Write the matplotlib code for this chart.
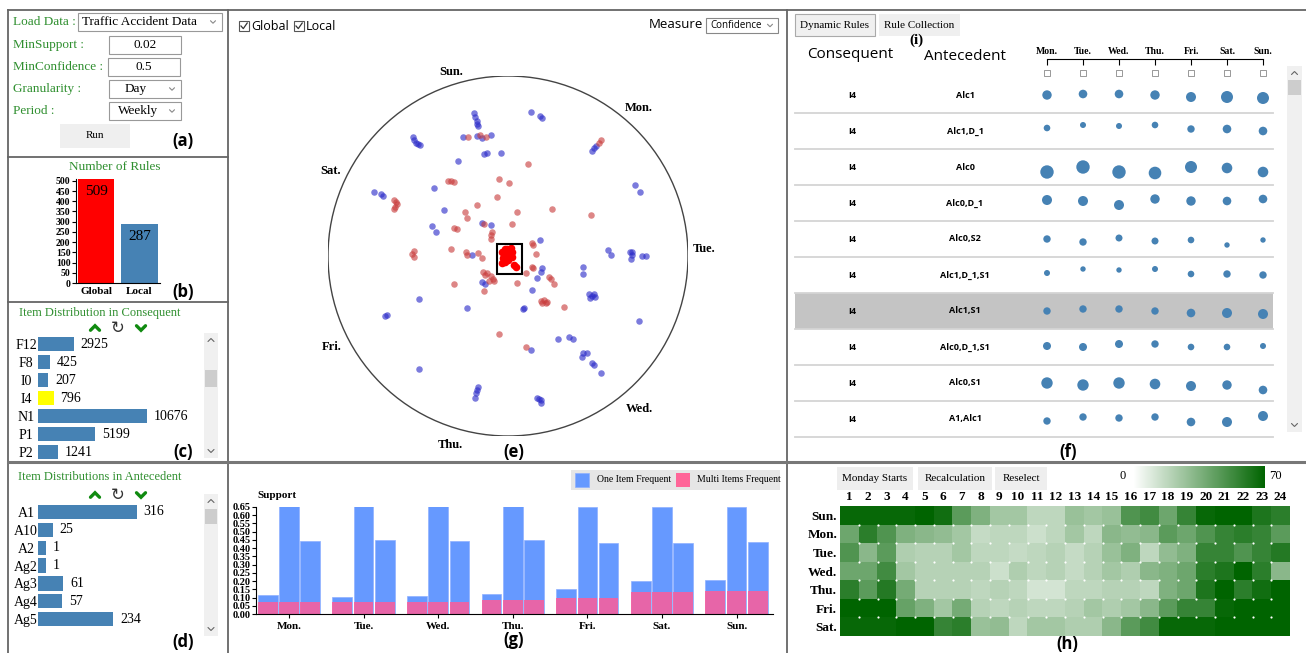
import numpy as np
import matplotlib
matplotlib.use("Agg")
import matplotlib.pyplot as plt
from matplotlib.patches import Rectangle, Circle
from matplotlib.colors import LinearSegmentedColormap

W, H = 1306, 653
SERIF = "Liberation Serif"
SANS = "Open Sans"
GREEN = "#2f8f2f"
STEEL = "#4682b4"

# ---- (b) number of rules ----
RULE_TYPES = ["Global", "Local"]
RULE_COUNTS = [509, 287]

# ---- (c) item distribution in consequent ----
CONS_ITEMS = ["F12", "F8", "I0", "I4", "N1", "P1", "P2"]
CONS_COUNTS = [2925, 425, 207, 796, 10676, 5199, 1241]

# ---- (d) item distribution in antecedent ----
ANTE_ITEMS = ["A1", "A10", "A2", "Ag2", "Ag3", "Ag4", "Ag5"]
ANTE_COUNTS = [316, 25, 1, 1, 61, 57, 234]

# ---- (e) radial rule map, positions in units of the circle radius ----
LOCAL_PTS = np.array([
    (-0.187, 0.796), (-0.181, 0.774), (-0.175, 0.752), (-0.171, 0.733), (-0.167, 0.722),
    (0.127, 0.798), (0.175, 0.780), (0.187, 0.765),
    (-0.528, 0.659), (-0.520, 0.644), (-0.512, 0.630), (-0.500, 0.620), (-0.488, 0.617),
    (-0.252, 0.661), (-0.173, 0.669), (-0.093, 0.674), (-0.143, 0.654),
    (0.464, 0.585), (0.476, 0.600), (0.488, 0.613),
    (-0.135, 0.565), (-0.117, 0.570), (-0.040, 0.574), (-0.280, 0.528),
    (-0.411, 0.376), (0.706, 0.393), (0.736, 0.357),
    (-0.742, 0.354), (-0.706, 0.343), (-0.692, 0.333),
    (-0.357, 0.254), (-0.421, 0.167), (-0.401, 0.135),
    (-0.143, 0.181), (-0.097, 0.172), (-0.200, 0.006), (0.177, 0.089),
    (0.190, -0.069), (0.185, -0.087), (0.163, -0.124),
    (-0.143, -0.144), (-0.127, -0.156), (0.133, -0.189),
    (0.415, -0.059), (0.419, -0.100), (0.558, 0.033), (0.573, 0.006),
    (0.677, 0.024), (0.687, 0.006), (0.681, -0.019), (0.690, 0.020),
    (0.746, 0.000), (0.766, 0.000),
    (0.452, -0.211), (0.464, -0.222), (0.478, -0.211), (0.484, -0.230), (0.458, -0.231),
    (0.083, -0.296), (0.089, -0.291), (-0.226, -0.287), (-0.496, -0.241),
    (-0.673, -0.328), (-0.683, -0.333), (0.726, -0.361),
    (0.280, -0.461), (0.339, -0.452), (0.359, -0.461), (0.127, -0.522),
    (0.419, -0.541), (0.438, -0.541), (0.409, -0.559),
    (0.468, -0.593), (0.478, -0.606), (0.514, -0.648), (-0.494, -0.628),
    (-0.167, -0.726), (-0.173, -0.744), (-0.177, -0.763), (-0.181, -0.787),
    (0.163, -0.791), (0.181, -0.800), (0.185, -0.819), (0.171, -0.796),
])
GLOBAL_PTS = np.array([
    (-0.222, 0.663), (-0.155, 0.674), (-0.123, 0.663), (0.504, 0.630), (0.516, 0.644),
    (0.111, 0.511), (-0.335, 0.417), (-0.315, 0.417), (-0.300, 0.413),
    (-0.052, 0.430), (0.006, 0.407),
    (-0.633, 0.311), (-0.623, 0.302), (-0.619, 0.289), (-0.629, 0.274), (-0.631, 0.263),
    (-0.062, 0.326), (-0.171, 0.285), (-0.240, 0.243), (-0.226, 0.213),
    (0.048, 0.243), (0.242, 0.259), (0.462, 0.230),
    (-0.300, 0.154), (-0.286, 0.148), (-0.131, 0.178),
    (-0.091, 0.135), (-0.097, 0.117), (-0.097, 0.094), (0.024, 0.178),
    (-0.524, 0.030), (-0.532, 0.011), (-0.524, -0.004), (-0.317, 0.037),
    (-0.236, 0.024), (-0.230, 0.006), (-0.167, 0.015), (-0.147, -0.009),
    (0.131, 0.070), (0.141, 0.061), (0.157, 0.009), (0.135, -0.059), (0.141, -0.069),
    (0.101, -0.096), (0.230, -0.115), (0.240, -0.130), (0.254, -0.157),
    (-0.137, -0.091), (-0.117, -0.096), (-0.097, -0.111), (-0.083, -0.130),
    (-0.107, -0.137), (-0.077, -0.139), (-0.127, -0.106),
    (0.048, -0.148), (-0.300, -0.157), (-0.131, -0.193),
    (0.183, -0.250), (0.198, -0.244), (0.214, -0.254), (0.190, -0.263), (0.210, -0.263),
    (0.310, -0.281), (-0.048, -0.435), (0.101, -0.507),
])
SELECTED_PTS = np.array([
    (-0.032, 0.024), (-0.018, 0.037), (0.002, 0.033), (0.022, 0.024), (0.012, 0.006),
    (-0.008, -0.004), (-0.028, -0.013), (-0.018, -0.031), (-0.032, -0.041), (0.002, -0.022),
    (0.022, -0.004), (0.032, -0.050), (0.042, -0.059), (0.016, 0.043), (-0.010, 0.015),
    (0.010, 0.020), (-0.020, 0.000), (0.000, -0.010), (-0.005, 0.040),
])
WEEK_RING = ["Sun.", "Mon.", "Tue.", "Wed.", "Thu.", "Fri.", "Sat."]

# ---- (f) rule table ----
DAYS = ["Mon.", "Tue.", "Wed.", "Thu.", "Fri.", "Sat.", "Sun."]
CONSEQUENT = "I4"
ANTECEDENTS = ["Alc1", "Alc1,D_1", "Alc0", "Alc0,D_1", "Alc0,S2",
               "Alc1,D_1,S1", "Alc1,S1", "Alc0,D_1,S1", "Alc0,S1", "A1,Alc1"]
# bubble radius (px) per day
BUBBLE_RADIUS = [
    [4.7, 4.3, 4.3, 4.7, 5.0, 6.0, 6.0],
    [3.3, 3.0, 3.0, 3.3, 3.7, 4.3, 4.3],
    [6.7, 6.7, 6.7, 6.3, 6.0, 5.3, 5.3],
    [5.0, 5.0, 5.0, 4.7, 4.7, 4.3, 4.3],
    [3.7, 3.7, 3.5, 3.5, 3.3, 2.7, 2.7],
    [3.0, 2.7, 2.7, 3.0, 3.3, 3.7, 3.7],
    [3.7, 3.7, 3.7, 3.7, 4.3, 5.0, 5.0],
    [4.0, 4.0, 4.0, 3.7, 3.3, 3.3, 3.0],
    [5.7, 5.7, 5.7, 5.3, 5.0, 4.7, 4.3],
    [3.7, 3.7, 3.7, 3.7, 4.3, 5.0, 5.0],
]
# vertical bubble offset inside the row (px, down is positive)
BUBBLE_SHIFT = [
    [0, -1, -1, 0, 2, 2, 3],
    [-3, -6, -5, -6, -2, -2, 0],
    [5, 0, 5, 6, 0, 1, 5],
    [-3, -2, 2, -4, -2, -2, -4],
    [0, 3, -1, 2, 1, 6, 1],
    [-2, -6, -5, -6, -1, -1, 0],
    [0, -2, -2, 0, 2, 2, 3],
    [-1, 0, -3, -3, 0, 0, -1],
    [0, 2, 0, 1, 3, 2, 7],
    [2, -2, -1, -2, 3, 3, -3],
]
HIGHLIGHT_ROW = 6

# ---- (g) support per day ----
ONE_ITEM_1 = [0.115, 0.105, 0.111, 0.119, 0.151, 0.200, 0.204]
ONE_ITEM_2 = [0.654, 0.654, 0.658, 0.658, 0.648, 0.648, 0.648]
ONE_ITEM_3 = [0.446, 0.452, 0.446, 0.452, 0.434, 0.434, 0.438]
MULTI_ITEMS = [0.075, 0.071, 0.075, 0.085, 0.099, 0.133, 0.137]

# ---- (h) hourly heatmap ----
HOURS = list(range(1, 25))
HEAT_DAYS = ["Sun.", "Mon.", "Tue.", "Wed.", "Thu.", "Fri.", "Sat."]
HEAT = [
    [68, 68, 68, 68, 70, 65, 45, 35, 25, 25, 18, 18, 28, 25, 28, 48, 52, 40, 55, 68, 70, 70, 62, 58],
    [40, 58, 48, 35, 32, 30, 25, 16, 18, 18, 14, 18, 25, 18, 32, 30, 32, 45, 40, 48, 55, 58, 55, 45],
    [48, 32, 45, 22, 20, 20, 25, 18, 18, 16, 18, 20, 16, 20, 28, 35, 18, 30, 35, 55, 55, 48, 55, 60],
    [40, 40, 52, 25, 20, 20, 20, 20, 14, 22, 18, 20, 16, 20, 25, 22, 32, 35, 40, 58, 62, 70, 58, 32],
    [58, 45, 60, 38, 20, 20, 20, 18, 20, 18, 12, 12, 18, 18, 20, 20, 18, 35, 40, 62, 70, 58, 65, 70],
    [70, 70, 70, 42, 35, 25, 38, 20, 18, 20, 18, 18, 20, 25, 22, 25, 32, 45, 55, 55, 68, 70, 70, 70],
    [68, 68, 68, 70, 70, 55, 58, 28, 30, 18, 25, 25, 22, 22, 32, 45, 52, 68, 68, 68, 70, 70, 70, 70],
]

fig = plt.figure(figsize=(W / 100, H / 100), dpi=100)
bg = fig.add_axes([0, 0, 1, 1])
bg.set_xlim(0, W)
bg.set_ylim(H, 0)
bg.axis("off")


def px_axes(x0, y0, x1, y1):
    return fig.add_axes([x0 / W, 1 - y1 / H, (x1 - x0) / W, (y1 - y0) / H])


def box(x0, y0, x1, y1, fc="white", ec="#999999", lw=0.8):
    bg.add_patch(Rectangle((x0, y0), x1 - x0, y1 - y0, fc=fc, ec=ec, lw=lw))


def chevron(x, y, s=3.0, up=False, color="#888888", lw=0.8):
    d = -s / 2 if up else s / 2
    bg.plot([x - s, x, x + s], [y - d, y + d, y - d], color=color, lw=lw,
            solid_capstyle="round", solid_joinstyle="miter")


def txt(x, y, s, size=10, family=SERIF, color="black", weight="normal", ha="left", **kw):
    bg.text(x, y, s, fontsize=size, family=family, color=color, fontweight=weight,
            ha=ha, va="center", **kw)


def panel_tag(x, y, s):
    txt(x, y, s, size=12, family=SANS, weight="bold", ha="center")


def scrollbar(x0, x1, y0, y1, t0, t1):
    box(x0, y0, x1, y1, fc="#f0f0f0", ec="none")
    box(x0 + 1, t0, x1 - 1, t1, fc="#cdcdcd", ec="none")
    chevron((x0 + x1) / 2, y0 + 7, s=3, up=True, color="#666666")
    chevron((x0 + x1) / 2, y1 - 7, s=3, color="#666666")


def nav_icons(y):
    chevron(95, y, s=4.5, up=True, color="#108a10", lw=2.4)
    txt(118, y, "\u21bb", size=12, family="DejaVu Sans", color="#333333", ha="center")
    chevron(141, y, s=4.5, color="#108a10", lw=2.4)


# ---- panel frames ----
frame = dict(color="#666666", lw=1.3)
bg.plot([8, 1306], [10, 10], **frame)
bg.plot([8, 8], [10, 653], **frame)
bg.plot([228, 228], [10, 653], **frame)
bg.plot([787, 787], [10, 653], **frame)
bg.plot([8, 228], [157, 157], **frame)
bg.plot([8, 228], [302, 302], **frame)
bg.plot([8, 1306], [462, 462], color="#777777", lw=2.2)

# ---- (a) controls ----
LAB = 9.5
txt(13, 22, "Load Data :", size=LAB, color=GREEN)
box(78, 13, 222, 31)
txt(82, 22, "Traffic Accident Data", size=LAB)
chevron(213, 22, s=2.5)
txt(13, 45, "MinSupport :", size=LAB, color=GREEN)
box(109, 36, 181, 54)
txt(145, 45, "0.02", size=LAB, ha="center")
txt(13, 67, "MinConfidence :", size=LAB, color=GREEN)
box(108, 58, 180, 76)
txt(144, 67, "0.5", size=LAB, ha="center")
txt(13, 89, "Granularity :", size=LAB, color=GREEN)
box(109, 80, 181, 98)
txt(136, 89, "Day", size=LAB, ha="center")
chevron(172, 89, s=2.5)
txt(13, 111, "Period :", size=LAB, color=GREEN)
box(109, 102, 181, 120)
txt(138, 111, "Weekly", size=LAB, ha="center")
chevron(172, 111, s=2.5)
box(60, 124, 130, 148, fc="#efefef", ec="none")
txt(95, 136, "Run", size=8, ha="center")
panel_tag(183, 141, "(a)")

# ---- (b) rule counts ----
txt(115, 167, "Number of Rules", size=LAB, color=GREEN, ha="center")
ax_b = px_axes(76, 179, 160, 283)
ax_b.bar(range(2), RULE_COUNTS, width=0.83, color=["#ff0000", STEEL])
for i, v in enumerate(RULE_COUNTS):
    ax_b.annotate(str(v), (i, v), xytext=(0, -4), textcoords="offset points",
                  ha="center", va="top", fontsize=11, family=SERIF)
ax_b.set_xlim(-0.46, 1.47)
ax_b.set_ylim(0, 509)
ax_b.set_yticks(range(0, 501, 50))
ax_b.set_xticks(range(2), RULE_TYPES)
ax_b.tick_params(axis="y", length=3, width=0.8, pad=1, labelsize=7)
ax_b.tick_params(axis="x", length=0, pad=3, labelsize=8)
for lab in ax_b.get_xticklabels() + ax_b.get_yticklabels():
    lab.set_fontfamily(SERIF)
    lab.set_fontweight("bold")
ax_b.spines[["top", "right"]].set_visible(False)
for s in ["left", "bottom"]:
    ax_b.spines[s].set_linewidth(0.8)
panel_tag(183, 292, "(b)")


def rank_bars(ax, items, counts, pad, xmax, highlight=None):
    colors = [STEEL] * len(items)
    if highlight is not None:
        colors[highlight] = "#ffff00"
    rows = np.arange(len(items))
    ax.barh(rows, np.array(counts) + pad, left=-pad, height=0.8, color=colors)
    for r, v in zip(rows, counts):
        ax.annotate(str(v), (v, r), xytext=(5, 0), textcoords="offset points",
                    va="center", ha="left", fontsize=10, family=SERIF)
    ax.set_xlim(-pad, xmax)
    ax.set_ylim(len(items) - 0.5, -0.5)
    ax.set_xticks([])
    ax.set_yticks(rows, items)
    ax.tick_params(axis="y", length=0, pad=8.5, labelsize=10)
    for lab in ax.get_yticklabels():
        lab.set_fontfamily(SERIF)
        lab.set_horizontalalignment("center")
    for s in ax.spines.values():
        s.set_visible(False)
    ax.patch.set_alpha(0)


# ---- (c) consequent items ----
txt(100, 313, "Item Distribution in Consequent", size=9, color=GREEN, ha="center")
nav_icons(328)
ax_c = px_axes(38, 335, 200, 461)
rank_bars(ax_c, CONS_ITEMS, CONS_COUNTS, 855, 16330, highlight=3)
scrollbar(204, 218, 333, 458, 370, 387)
panel_tag(183, 452, "(c)")

# ---- (d) antecedent items ----
txt(100, 477, "Item Distributions in Antecedent", size=9, color=GREEN, ha="center")
nav_icons(495)
ax_d = px_axes(38, 503, 200, 628)
rank_bars(ax_d, ANTE_ITEMS, ANTE_COUNTS, 26, 535)
scrollbar(204, 218, 494, 636, 509, 524)
panel_tag(183, 642, "(d)")

# ---- (e) radial view ----
for x0, label in [(239, "Global"), (294, "Local")]:
    box(x0, 21, x0 + 10, 31, ec="#555555", lw=0.8)
    bg.plot([x0 + 2, x0 + 4.3, x0 + 8.2], [26, 28.6, 23], color="#333333", lw=0.9)
    txt(x0 + 12, 26, label, size=9, family=SANS)
txt(703, 25, "Measure", size=9.5, family=SANS, ha="right")
box(706, 18, 778, 33, ec="#888888")
txt(710, 25.5, "Confidence", size=7, family=SANS)
chevron(770, 25.5, s=2.5)

ax_e = px_axes(328, 76, 688, 436)
ax_e.set_xlim(-1, 1)
ax_e.set_ylim(-1, 1)
ax_e.axis("off")
ax_e.add_patch(Circle((0, 0), 1, fill=False, ec="#444444", lw=1.0))
ax_e.scatter(LOCAL_PTS[:, 0], LOCAL_PTS[:, 1], s=22, color="#2b2bc8", alpha=0.62, lw=0)
ax_e.scatter(GLOBAL_PTS[:, 0], GLOBAL_PTS[:, 1], s=22, color="#c83c3c", alpha=0.62, lw=0)
ax_e.scatter(SELECTED_PTS[:, 0], SELECTED_PTS[:, 1], s=30, color="#ff0000", lw=0)
ax_e.add_patch(Rectangle((-0.063, -0.100), 0.138, 0.167, fill=False, ec="black", lw=1.5))
ring_pos = [(-0.317, 1.022), (0.728, 0.822), (1.089, 0.039), (0.728, -0.850),
            (-0.322, -1.050), (-0.978, -0.506), (-0.983, 0.472)]
for (x, y), lab in zip(ring_pos, WEEK_RING):
    ax_e.text(x, y, lab, fontsize=9, family=SERIF, fontweight="bold",
              ha="center", va="center", clip_on=False)
panel_tag(514, 452, "(e)")

# ---- (f)/(i) rule table ----
box(795, 14, 875, 36, fc="#f0f0f0", ec="#aaaaaa")
txt(835, 25, "Dynamic Rules", size=8, ha="center")
box(879, 14, 960, 36, fc="#efefef", ec="none")
txt(919, 25, "Rule Collection", size=8, ha="center")
txt(916, 40, "(i)", size=11, weight="bold", ha="center")
txt(850, 55, "Consequent", size=11, family=SANS, ha="center")
txt(965, 56, "Antecedent", size=11, family=SANS, ha="center")

row_y = [95 + 36 * k for k in range(len(ANTECEDENTS))]
box(795, row_y[HIGHLIGHT_ROW] - 18, 1273, row_y[HIGHLIGHT_ROW] + 18, fc="#c4c4c4", ec="none")
for k, ante in enumerate(ANTECEDENTS):
    bg.plot([795, 1273], [row_y[k] + 18, row_y[k] + 18], color="#d4d4d4", lw=1.3)
    txt(852, row_y[k], CONSEQUENT, size=6.5, family=SANS, weight="bold", ha="center")
    txt(965, row_y[k], ante, size=6.5, family=SANS, weight="bold", ha="center")

ax_f = px_axes(1029, 59, 1281, 437)
ax_f.set_xlim(-0.5, 6.5)
ax_f.set_ylim(9.5, -1.0)
ax_f.patch.set_alpha(0)
for s in ["left", "right", "bottom"]:
    ax_f.spines[s].set_visible(False)
ax_f.spines["top"].set_bounds(0, 6)
ax_f.spines["top"].set_linewidth(0.8)
ax_f.xaxis.tick_top()
ax_f.set_xticks(range(7), DAYS, fontfamily=SERIF, fontweight="bold", fontsize=7)
ax_f.tick_params(axis="x", direction="in", length=4, width=0.8, pad=2)
ax_f.set_yticks([])
for d in range(7):
    ax_f.add_patch(Rectangle((d - 0.08, -0.69), 0.16, 0.16, fill=False,
                             ec="#888888", lw=0.6, clip_on=False))
for k in range(len(ANTECEDENTS)):
    rad = np.array(BUBBLE_RADIUS[k])
    shift = np.array(BUBBLE_SHIFT[k]) / 36.0   # px -> row units
    ax_f.scatter(range(7), k + shift, s=(2 * rad * 0.72) ** 2, color=STEEL,
                 lw=0, clip_on=False)
scrollbar(1287, 1302, 66, 432, 80, 95)
panel_tag(1068, 452, "(f)")

# ---- (g) support bars ----
ax_g = px_axes(256, 507, 773, 614)
xg = np.arange(7)
for j, series in enumerate([ONE_ITEM_1, ONE_ITEM_2, ONE_ITEM_3]):
    ax_g.bar(xg + (j - 1) * 0.285, series, width=0.264, color="#6699ff",
             ec="#8fb0ff", lw=0.5)
for j in range(3):
    ax_g.bar(xg + (j - 1) * 0.285, MULTI_ITEMS, width=0.264, color="#ff5c99",
             alpha=0.85, lw=0)
ax_g.set_xlim(-0.442, 6.488)
ax_g.set_ylim(0, 0.65)
ax_g.set_yticks(np.arange(0, 0.651, 0.05))
ax_g.set_yticklabels([f"{v:.2f}" for v in np.arange(0, 0.651, 0.05)])
ax_g.set_xticks(xg, DAYS)
ax_g.tick_params(axis="y", length=3, width=0.8, pad=1, labelsize=7.5)
ax_g.tick_params(axis="x", length=3, width=0.8, pad=3, labelsize=8)
for lab in ax_g.get_xticklabels() + ax_g.get_yticklabels():
    lab.set_fontfamily(SERIF)
    lab.set_fontweight("bold")
ax_g.spines[["top", "right"]].set_visible(False)
for s in ["left", "bottom"]:
    ax_g.spines[s].set_linewidth(0.8)
txt(257, 495, "Support", size=8, weight="bold")
box(571, 470, 780, 490, fc="#e6e6e6", ec="none")
box(575, 473, 589, 487, fc="#6699ff", ec="#8fb0ff", lw=0.5)
txt(597, 480, "One Item Frequent", size=7)
box(676, 473, 690, 487, fc="#ff6699", ec="none")
txt(697, 480, "Multi Items Frequent", size=7)
panel_tag(514, 640, "(g)")

# ---- (h) heatmap ----
for x0, x1, lab in [(837, 913, "Monday Starts"), (918, 992, "Recalculation"),
                    (995, 1047, "Reselect")]:
    box(x0, 467, x1, 490, fc="#eeeeee", ec="none")
    txt((x0 + x1) / 2, 478.5, lab, size=8, ha="center")

greens = LinearSegmentedColormap.from_list("greens", ["#ffffff", "#006400"])
ax_h = px_axes(840, 506, 1290, 636)
im = ax_h.imshow(HEAT, cmap=greens, vmin=0, vmax=70, aspect="auto",
                 interpolation="nearest")
gx, gy = np.meshgrid(np.arange(0.5, 23), np.arange(0.5, 6))
ax_h.scatter(gx.ravel(), gy.ravel(), s=2.5, color="white", lw=0)
ax_h.xaxis.tick_top()
ax_h.set_xticks(range(24), HOURS)
ax_h.set_yticks(range(7), HEAT_DAYS)
ax_h.tick_params(length=0, pad=2, labelsize=9.5)
for lab in ax_h.get_xticklabels() + ax_h.get_yticklabels():
    lab.set_fontfamily(SERIF)
    lab.set_fontweight("bold")
for s in ax_h.spines.values():
    s.set_visible(False)

cax = px_axes(1133, 466, 1265, 488)
cb = fig.colorbar(im, cax=cax, orientation="horizontal")
cb.set_ticks([])
cb.outline.set_visible(False)
txt(1123, 476, "0", size=9, ha="center")
txt(1275, 476, "70", size=9, ha="center")
panel_tag(1067, 644, "(h)")

fig.savefig("out.png", dpi=100, facecolor="white")
